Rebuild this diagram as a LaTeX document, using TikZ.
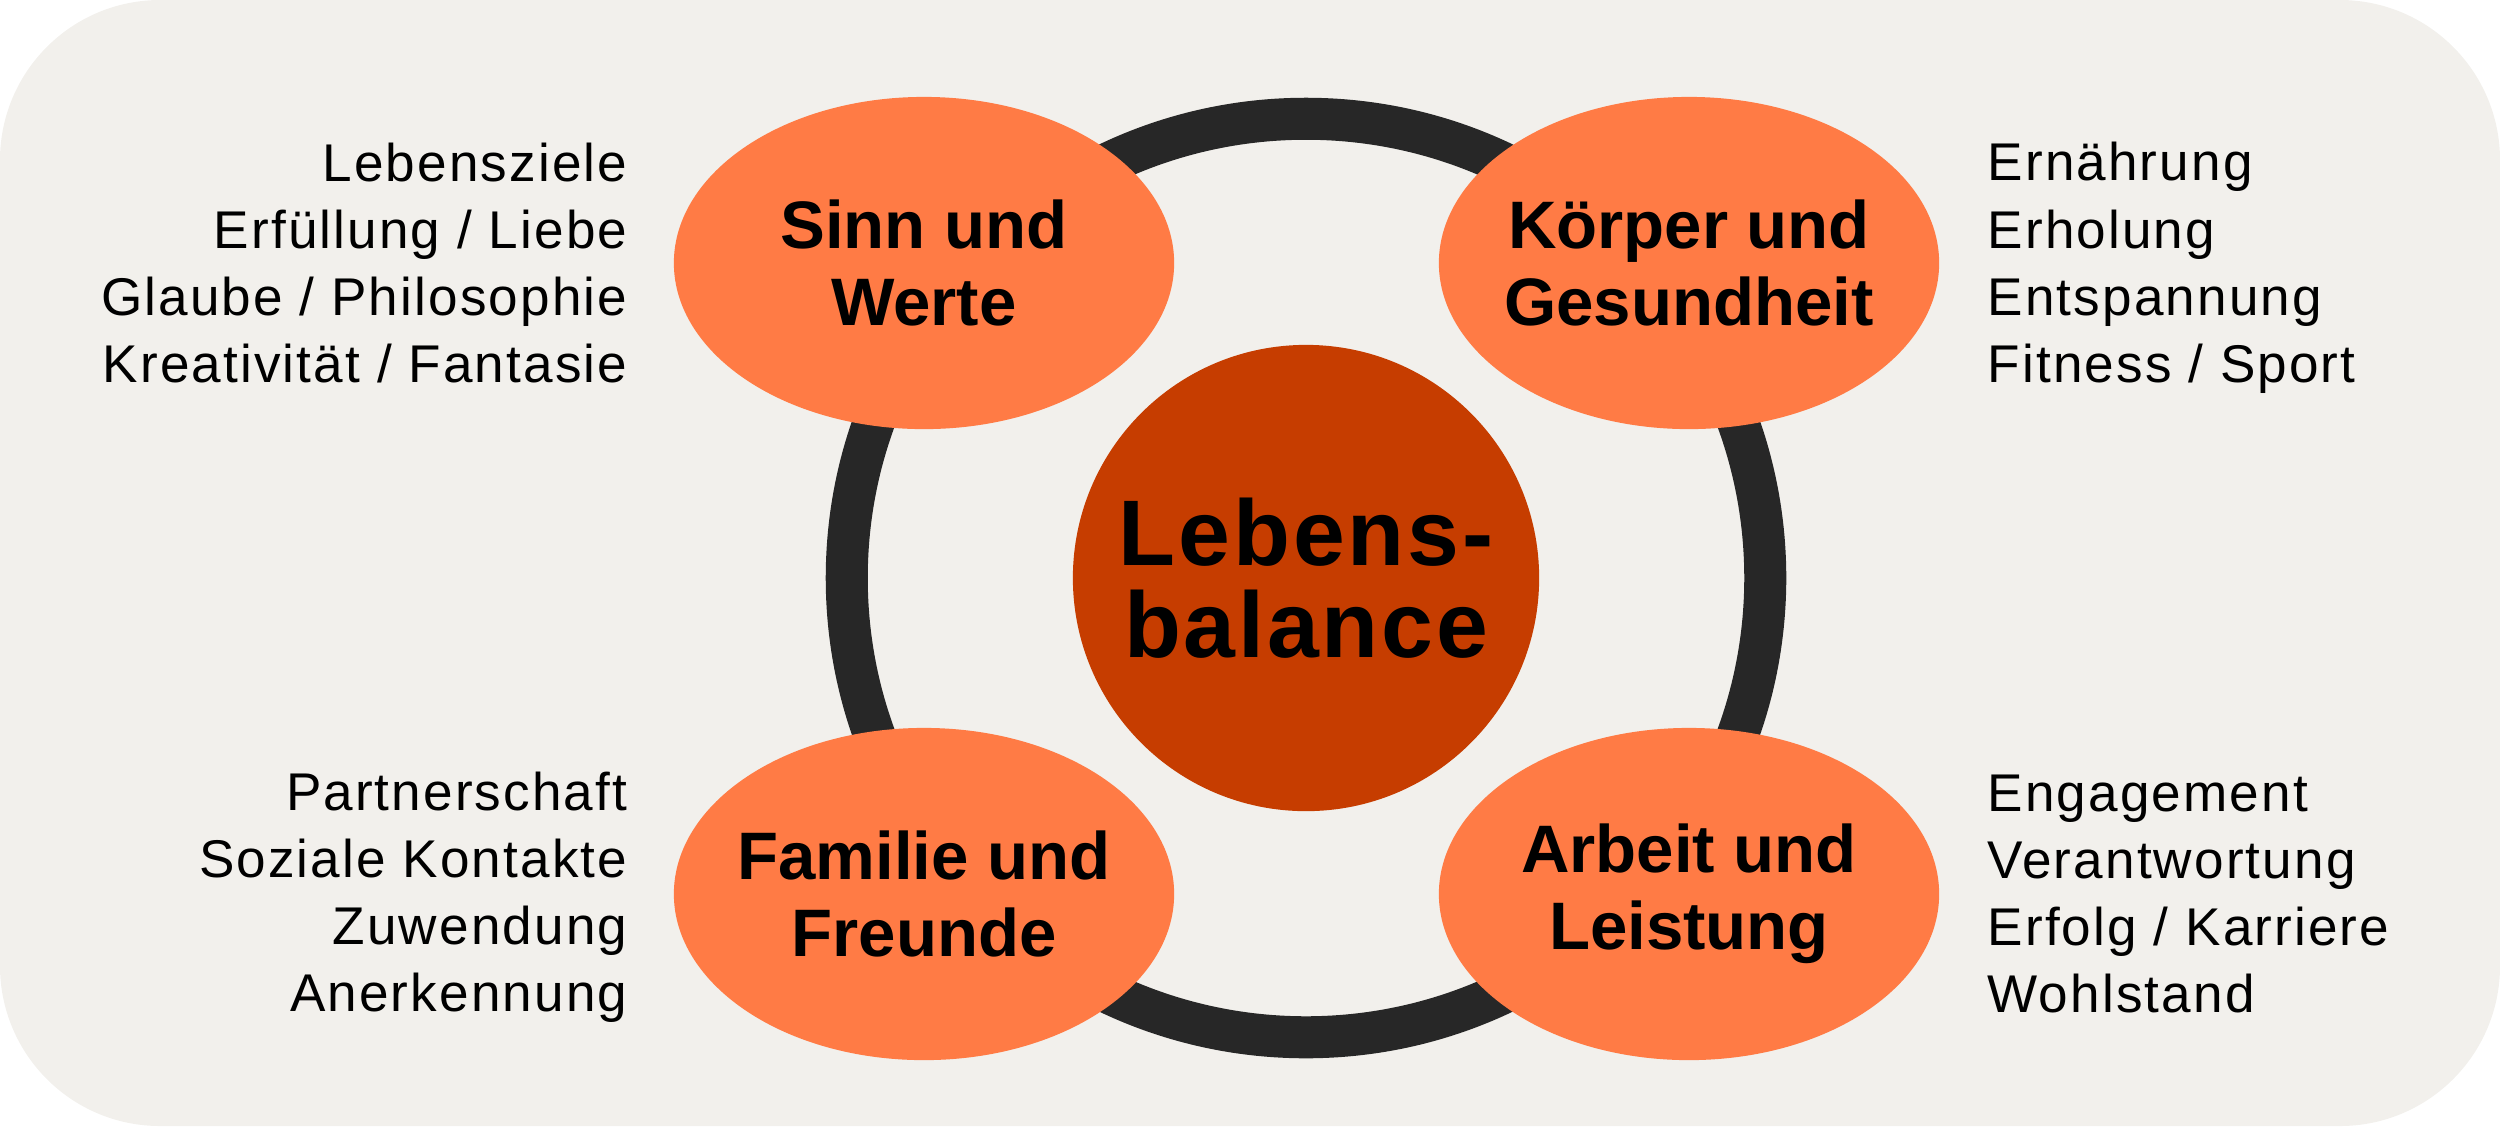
\documentclass[tikz,border=0pt]{standalone}
\usepackage{fontspec}
\setmainfont{Liberation Sans}
\newfontfamily\listfont[LetterSpace=4]{Liberation Sans}
\newfontfamily\headfont{Liberation Sans}
\newfontfamily\centerfont[LetterSpace=3]{Liberation Sans}
\usetikzlibrary{shapes.geometric}
\definecolor{bgc}{HTML}{F2F0EC}
\definecolor{petal}{HTML}{FF7B45}
\definecolor{core}{HTML}{C63D00}
\definecolor{ringc}{HTML}{272727}
\tikzset{
  petalnode/.style={ellipse, fill=petal, minimum width=5cm, minimum height=3.32cm, inner sep=0pt},
  petaltext/.style={align=center, inner sep=0pt, font=\headfont\bfseries\fontsize{19.1pt}{21.9pt}\selectfont},
  corenode/.style={circle, fill=core, minimum size=4.66cm, inner sep=0pt,
     align=center, font=\centerfont\bfseries\fontsize{26.5pt}{26.2pt}\selectfont},
  leftlist/.style={anchor=east, align=right, inner sep=0pt, font=\listfont\fontsize{15.1pt}{19.1pt}\selectfont},
  rightlist/.style={anchor=west, align=left, inner sep=0pt, font=\listfont\fontsize{15.1pt}{19.1pt}\selectfont},
  ringline/.style={draw=ringc, line width=0.42cm}
}
\begin{document}
\begin{tikzpicture}[x=0.01cm,y=-0.01cm]
\useasboundingbox (0,0) rectangle (2500,1126);
\fill[bgc, rounded corners=1.6cm] (0,0) rectangle (2500,1126);
\coordinate (mid) at (1306,578);
\draw[ringline] (mid) circle (4.59cm);
\node[corenode] (core) at (mid) {Lebens-\\balance};
\node[petalnode] (sinn) at (924,263) {};
\node[petalnode] (koerper) at (1689,263) {};
\node[petalnode] (familie) at (924,894) {};
\node[petalnode] (arbeit) at (1689,894) {};
\node[petaltext] (sinnT) at (sinn.center) {Sinn und\\Werte};
\node[petaltext] (koerperT) at (koerper.center) {Körper und\\Gesundheit};
\node[petaltext] (familieT) at (familie.center) {Familie und\\Freunde};
\node[petaltext] (arbeitT) at (arbeit.center) {Arbeit und\\Leistung};
\node[leftlist] (l1) at (628,263) {Lebensziele\\Erfüllung / Liebe\\Glaube / Philosophie\\Kreativität / Fantasie};
\node[leftlist] (l2) at (628,897) {Partnerschaft\\Soziale Kontakte\\Zuwendung\\Anerkennung};
\node[rightlist] (r1) at (1987,268) {Ernährung\\Erholung\\Entspannung\\Fitness / Sport};
\node[rightlist] (r2) at (1987,894) {Engagement\\Verantwortung\\Erfolg / Karriere\\Wohlstand};
\end{tikzpicture}
\end{document}
